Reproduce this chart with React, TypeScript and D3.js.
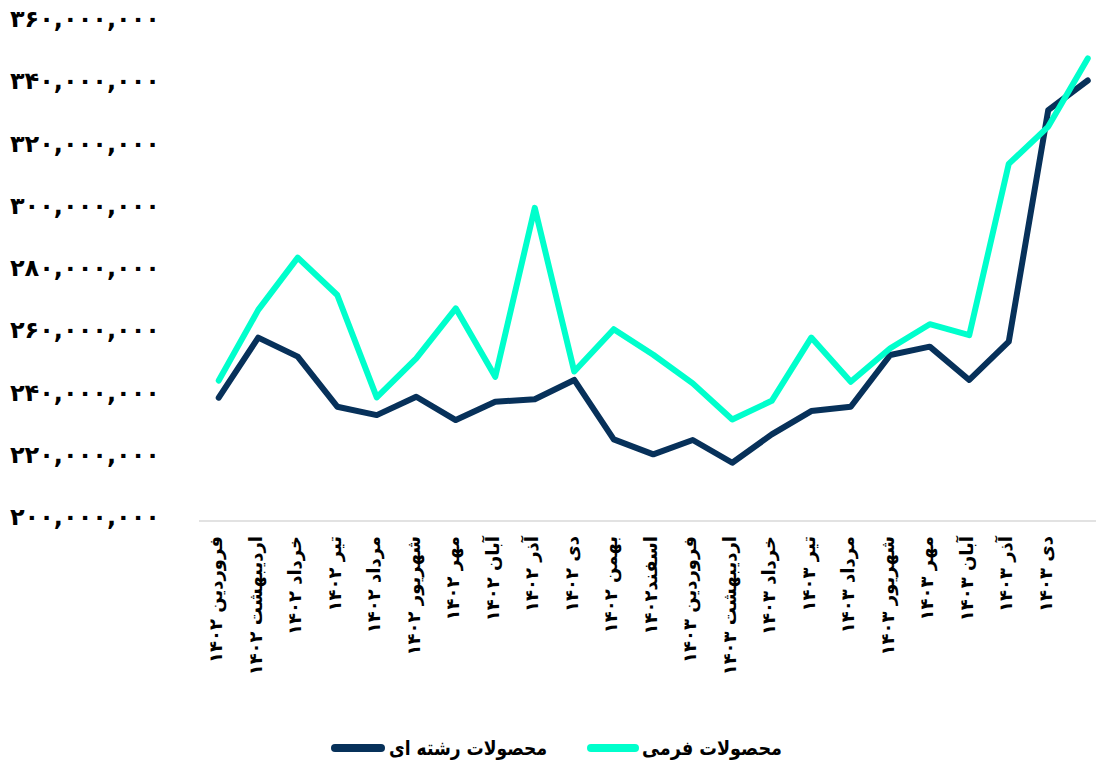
import React from "react";
import * as d3 from "d3";

const categories = [
  "فروردین ۱۴۰۲", "اردیبهشت ۱۴۰۲", "خرداد ۱۴۰۲", "تیر ۱۴۰۲", "مرداد ۱۴۰۲", "شهریور ۱۴۰۲",
  "مهر ۱۴۰۲", "آبان ۱۴۰۲", "آذر ۱۴۰۲", "دی ۱۴۰۲", "بهمن ۱۴۰۲", "اسفند۱۴۰۲",
  "فروردین ۱۴۰۳", "اردیبهشت ۱۴۰۳", "خرداد ۱۴۰۳", "تیر ۱۴۰۳", "مرداد ۱۴۰۳", "شهریور ۱۴۰۳",
  "مهر ۱۴۰۳", "آبان ۱۴۰۳", "آذر ۱۴۰۳", "دی ۱۴۰۳", "",
];

const formiValues = [
  244.8, 267.5, 284.3, 272.3, 239.4, 251.9, 268.0, 246.0, 300.3, 247.7, 261.3, 253.1,
  243.9, 232.3, 238.3, 258.6, 244.4, 255.2, 262.9, 259.4, 314.4, 326.4, 348.3,
].map((v) => v * 1e6);

const reshteValues = [
  239.3, 258.6, 252.5, 236.4, 233.7, 239.6, 232.1, 238.0, 238.8, 245.0, 225.9, 221.1,
  225.7, 218.4, 227.5, 235.0, 236.4, 253.0, 255.7, 245.0, 257.3, 331.7, 341.2,
].map((v) => v * 1e6);

const seriesNames = ["محصولات فرمی", "محصولات رشته ای"];
const yDomain = [200e6, 360e6];

const toPersian = (s: string) => s.replace(/\d/g, (d) => "۰۱۲۳۴۵۶۷۸۹"[+d]);

export default function App() {
  const W = 1096, H = 768;
  const left = 199, plotTop = 22, plotBottom = 520;
  const step = 39.5;
  const x = d3.scaleBand<number>()
    .domain(categories.map((_, i) => i))
    .range([left, left + categories.length * step]);
  const y = d3.scaleLinear().domain(yDomain).range([plotBottom, plotTop]);
  const cx = (i: number) => (x(i) as number) + x.bandwidth() / 2;
  const line = d3.line<number>().x((_, i) => cx(i)).y((d) => y(d));
  const fmt = d3.format(",");
  const font = "'DejaVu Sans', sans-serif";
  const navy = "#07315A";
  const aqua = "#00FFCC";

  return (
    <svg width={W} height={H} style={{ position: "absolute", left: 0, top: 0, display: "block", background: "#fff" }}>
      {y.ticks(8).map((t) => (
        <text key={t} x={160} y={y(t) - 3} textAnchor="end" dominantBaseline="central"
          fontFamily={font} fontWeight="bold" fontSize={24} fill="#000">
          {toPersian(fmt(t))}
        </text>
      ))}
      <line x1={left} x2={W} y1={plotBottom + 1} y2={plotBottom + 1} stroke="#D9D9D9" strokeWidth={1.5} />
      {categories.map((c, i) => c ? (
        <text key={i} transform={`translate(${cx(i) - 3},536) rotate(-90)`} textAnchor="end"
          dominantBaseline="central" fontFamily={font} fontWeight="bold" fontSize={18} fill="#000">
          {toPersian(c)}
        </text>
      ) : null)}
      <path d={line(reshteValues) || ""} fill="none" stroke={navy} strokeWidth={6} strokeLinejoin="round" strokeLinecap="round" />
      <path d={line(formiValues) || ""} fill="none" stroke={aqua} strokeWidth={6} strokeLinejoin="round" strokeLinecap="round" />
      <g>
        <line x1={591} x2={635} y1={748} y2={748} stroke={aqua} strokeWidth={8} strokeLinecap="round" />
        <text x={782} y={748} textAnchor="end" dominantBaseline="central" fontFamily={font}
          fontWeight="bold" fontSize={20} fill="#000" textLength={140} lengthAdjust="spacingAndGlyphs">
          {seriesNames[0]}
        </text>
        <line x1={335} x2={381} y1={748} y2={748} stroke={navy} strokeWidth={8} strokeLinecap="round" />
        <text x={547} y={748} textAnchor="end" dominantBaseline="central" fontFamily={font}
          fontWeight="bold" fontSize={20} fill="#000" textLength={158} lengthAdjust="spacingAndGlyphs">
          {seriesNames[1]}
        </text>
      </g>
    </svg>
  );
}
